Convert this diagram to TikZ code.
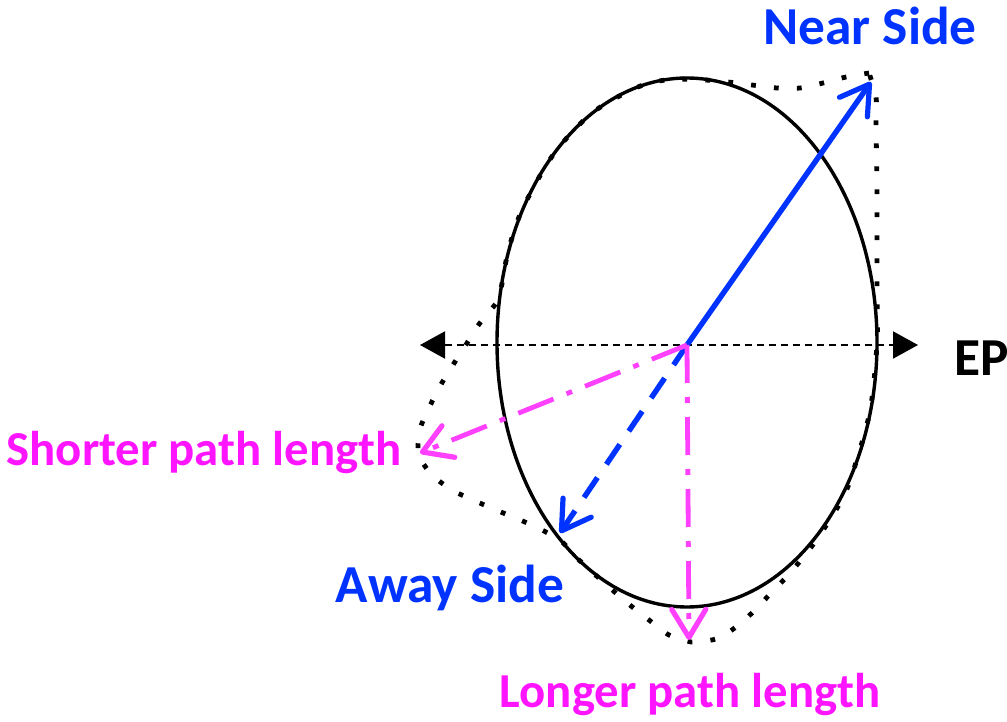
\documentclass[tikz,border=0pt]{standalone}
\usepackage{fontspec}
\setmainfont{Carlito}
\usetikzlibrary{arrows.meta}
\definecolor{sideBlue}{RGB}{0,51,255}
\definecolor{pathMagenta}{RGB}{255,64,255}
\definecolor{labelMagenta}{RGB}{255,20,255}
\newcommand{\SideFont}{\fontsize{26.7}{30}\selectfont\bfseries}
\newcommand{\PathFont}{\fontsize{24.4}{30}\selectfont\bfseries}

\begin{document}
\begin{tikzpicture}[x=0.5pt,y=-0.5pt,
  barbTip/.style={-{Straight Barb[length=14pt,width=17pt,line width=2.6pt,round]}},
  nearArrow/.style={sideBlue,line width=2.7pt,line cap=round,barbTip},
  awayArrow/.style={sideBlue,line width=2.7pt,dash pattern=on 12pt off 8pt,barbTip},
  pathArrow/.style={pathMagenta,line width=2.4pt,dash pattern=on 19pt off 7pt on 3pt off 7pt,barbTip},
  epLine/.style={black,line width=1pt,dash pattern=on 3.5pt off 2.5pt,{Triangle[length=12.5pt,width=13.5pt]}-{Triangle[length=12.5pt,width=13.5pt]}},
  outline/.style={black,line width=2.4pt,dash pattern=on 2.4pt off 9.1pt},
  sideLabel/.style={text=sideBlue,font=\SideFont,inner sep=0pt},
  pathLabel/.style={text=labelMagenta,font=\PathFont,inner sep=0pt}]
\useasboundingbox (0,0) rectangle (1007,722);

% key points
\coordinate (ctr) at (687,345);
\coordinate (nearTip) at (871,82);
\coordinate (awayTip) at (560,533);
\coordinate (shortTip) at (420,453);
\coordinate (longTip) at (689,640);
\coordinate (epLeft) at (420,345);
\coordinate (epRight) at (918,345);

% distorted shape
\draw[outline] plot[smooth] coordinates {(869,73) (846,77) (823,83) (800,88) (777,88) (752,85) (728,82) (705,80) (670,79.5) (638,87) (592,113) (553,155) (522,210) (508,252) (499,297) (488,313) (477,327) (464,348) (451,368) (439,388) (428,410) (419,432) (418,456)}
  -- plot[smooth] coordinates {(418,456) (432,475) (452,490) (473,500) (496,510) (518,519) (540,529) (561,541) (578,559) (600,579) (625,601) (649,620) (669,635) (691,642)}
  -- plot[smooth] coordinates {(691,642) (716,639) (736,627) (754,611) (771,593) (790,573) (815,542) (840,503) (852,475) (870,411) (877,343) (877,290) (877,200) (876,120) (876,97) (869,73)};

% nucleus
\draw[black,line width=1.7pt] (687,342.5) ellipse [x radius=190,y radius=264.5];

% event plane
\draw[epLine] (epLeft) -- (epRight);

% arrows
\draw[nearArrow] (ctr) -- (nearTip);
\draw[awayArrow] (ctr) -- (awayTip);
\draw[pathArrow] (ctr) -- (shortTip);
\draw[pathArrow] (ctr) -- (longTip);

% labels
\node[sideLabel] (nearLbl) at (870,26) {Near Side};
\node[sideLabel] (awayLbl) at (450,588) {Away Side};
\node[pathLabel] (shortLbl) at (204,453) {Shorter path length};
\node[pathLabel] (longLbl) at (690,695) {Longer path length};
\node[font=\SideFont,inner sep=0pt,anchor=west] (epLbl) at (954,358) {EP};
\end{tikzpicture}
\end{document}
